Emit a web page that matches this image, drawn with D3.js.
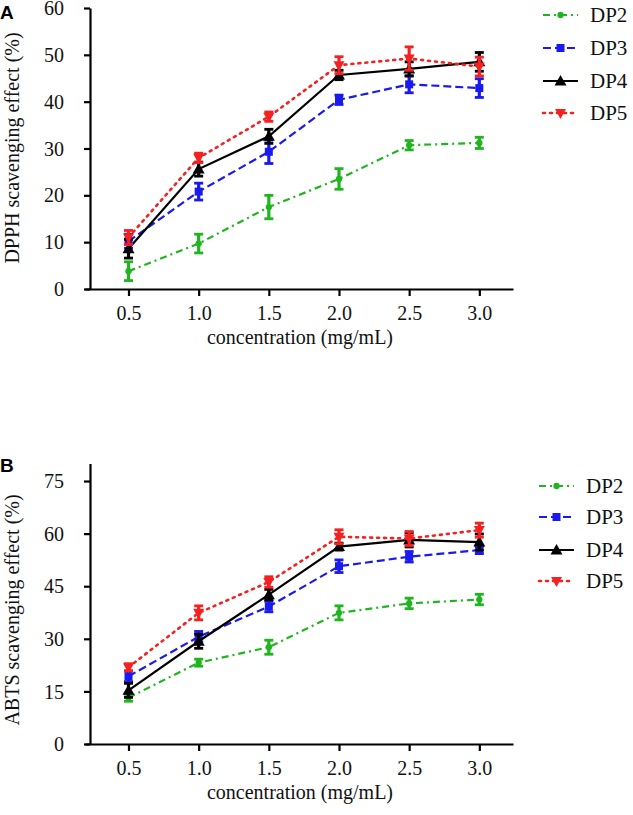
<!DOCTYPE html>
<html><head><meta charset="utf-8">
<script src="https://cdn.jsdelivr.net/npm/d3@7"></script>
<style>body{margin:0;background:#fff}svg{display:block}
.serif{font-family:"Liberation Serif","Times New Roman",Times,serif}
.sansb{font-family:"Liberation Sans",Arial,sans-serif;font-weight:bold}
</style>
</head><body>
<svg id="c" width="633" height="815"></svg>
<script>
const concentrations = [0.5, 1.0, 1.5, 2.0, 2.5, 3.0];
const seriesNames = ["DP2", "DP3", "DP4", "DP5"];
// Panel A: DPPH
const dpphDP2 = [3.8, 9.7, 17.5, 23.5, 30.7, 31.2];
const dpphDP3 = [10.2, 20.8, 29.3, 40.4, 43.7, 42.9];
const dpphDP4 = [8.6, 25.6, 32.6, 45.7, 47.0, 48.5];
const dpphDP5 = [11.0, 28.0, 36.8, 47.8, 49.2, 47.5];
const dpphErrDP2 = [2.0, 2.0, 2.5, 2.2, 1.0, 1.2];
const dpphErrDP3 = [1.5, 1.8, 2.5, 1.0, 1.8, 2.0];
const dpphErrDP4 = [2.0, 1.5, 1.5, 1.0, 1.5, 2.0];
const dpphErrDP5 = [1.5, 1.0, 1.0, 1.8, 2.5, 2.0];
// Panel B: ABTS
const abtsDP2 = [13.2, 23.2, 27.6, 37.4, 40.1, 41.2];
const abtsDP3 = [19.3, 30.6, 39.2, 50.7, 53.4, 55.3];
const abtsDP4 = [15.3, 29.3, 42.6, 56.3, 58.2, 57.6];
const abtsDP5 = [21.9, 37.4, 46.2, 59.1, 58.6, 61.0];
const abtsErrDP2 = [1.0, 1.0, 2.0, 2.0, 1.5, 1.5];
const abtsErrDP3 = [1.5, 1.5, 1.5, 1.8, 1.5, 1.0];
const abtsErrDP4 = [2.0, 2.0, 1.5, 1.0, 2.0, 2.3];
const abtsErrDP5 = [1.0, 2.0, 1.5, 2.0, 2.0, 2.0];
const xTickLabels = ["0.5", "1.0", "1.5", "2.0", "2.5", "3.0"];
const dpphTicks = [0, 10, 20, 30, 40, 50, 60];
const abtsTicks = [0, 15, 30, 45, 60, 75];

const colors = {DP2: "#1fb51f", DP3: "#1a1aee", DP4: "#000000", DP5: "#f52020"};
const dashes = {DP2: "7,4,2,4", DP3: "8,4", DP4: null, DP5: "2,5"};
const caps = {DP2: "butt", DP3: "butt", DP4: "butt", DP5: "round"};
const symbols = {DP2: "circle", DP3: "square", DP4: "triUp", DP5: "triDown"};

const svg = d3.select("#c");

function marker(g, type, cx, cy, color, s) {
  if (type === "circle") g.append("circle").attr("cx", cx).attr("cy", cy).attr("r", s*0.45).attr("fill", color);
  else if (type === "square") g.append("rect").attr("x", cx - s*0.4).attr("y", cy - s*0.4).attr("width", s*0.8).attr("height", s*0.8).attr("fill", color);
  else if (type === "triUp") g.append("path").attr("d", `M${cx},${cy - s*0.6}L${cx + s*0.6},${cy + s*0.45}L${cx - s*0.6},${cy + s*0.45}Z`).attr("fill", color);
  else g.append("path").attr("d", `M${cx},${cy + s*0.6}L${cx + s*0.55},${cy - s*0.4}L${cx - s*0.55},${cy - s*0.4}Z`).attr("fill", color);
}

function panel(cfg) {
  const x = d3.scaleLinear().domain([0.19, 3.24]).range([85, 513]);
  const y = d3.scaleLinear().domain([0, cfg.yMax]).range([cfg.y0, cfg.yTop]);
  const g = svg.append("g");

  const ya = g.append("g").attr("transform", "translate(90,0)")
    .call(d3.axisLeft(y).tickValues(cfg.ticks).tickSize(6).tickSizeOuter(0).tickFormat(d3.format("d")));
  ya.attr("font-family", null).attr("font-size", null);
  ya.select(".domain").attr("stroke-width", 2.2);
  ya.selectAll(".tick line").attr("stroke-width", 2.2);
  ya.selectAll(".tick text").attr("class", "serif").style("font-size", "20px").attr("x", -26).attr("dy", "0.33em").attr("fill", "#111");

  const xa = g.append("g").attr("transform", `translate(0,${cfg.y0})`)
    .call(d3.axisBottom(x).tickValues(concentrations).tickSize(7).tickSizeOuter(0).tickFormat((d, i) => xTickLabels[i]));
  xa.attr("font-family", null).attr("font-size", null);
  xa.select(".domain").attr("stroke-width", 2.2);
  xa.selectAll(".tick line").attr("stroke-width", 2.2);
  xa.selectAll(".tick text").attr("class", "serif").style("font-size", "20px").attr("y", 17).attr("fill", "#111");

  g.append("text").attr("class", "serif").attr("x", 300).attr("y", cfg.y0 + 55).attr("text-anchor", "middle")
    .style("font-size", "20px").attr("fill", "#111").text("concentration (mg/mL)");
  g.append("text").attr("class", "serif").attr("transform", `translate(18.5,${cfg.yLabelC}) rotate(-90)`).attr("text-anchor", "middle")
    .style("font-size", "20px").attr("fill", "#111").text(cfg.yLabel);
  g.append("text").attr("class", "sansb").attr("x", 0).attr("y", cfg.letterY)
    .style("font-size", "19px").attr("fill", "#000").text(cfg.letter);

  const line = d3.line().x((d, i) => x(concentrations[i])).y(d => y(d));
  cfg.series.forEach((vals, k) => {
    const name = seriesNames[k];
    const col = colors[name];
    const errs = cfg.errs[k];
    const sg = g.append("g");
    sg.append("path").datum(vals).attr("d", line).attr("fill", "none").attr("stroke", col)
      .attr("stroke-width", name === "DP5" ? 2.6 : 2.2).attr("stroke-dasharray", dashes[name]).attr("stroke-linecap", caps[name]);
    vals.forEach((v, i) => {
      const cx = x(concentrations[i]);
      const e = errs[i];
      sg.append("line").attr("x1", cx).attr("x2", cx).attr("y1", y(v - e)).attr("y2", y(v + e)).attr("stroke", col).attr("stroke-width", 3.2);
      [v - e, v + e].forEach(b => sg.append("line").attr("x1", cx - 4.5).attr("x2", cx + 4.5).attr("y1", y(b)).attr("y2", y(b)).attr("stroke", col).attr("stroke-width", 2.8));
      marker(sg, symbols[name], cx, y(v), col, name === "DP2" ? 7 : 10);
    });
  });

  seriesNames.forEach((name, k) => {
    const ly = cfg.legY[k];
    const col = colors[name];
    const lg = g.append("g");
    lg.append("line").attr("x1", cfg.legX).attr("x2", cfg.legX + 35).attr("y1", ly).attr("y2", ly).attr("stroke", col)
      .attr("stroke-width", name === "DP5" ? 2.6 : 2.2).attr("stroke-dasharray", dashes[name])
      .attr("stroke-linecap", caps[name]);
    marker(lg, symbols[name], cfg.legX + 17.5, ly, col, name === "DP2" ? 7 : 10);
    lg.append("text").attr("class", "serif").attr("x", cfg.legX + 47).attr("y", ly + 7).style("font-size", "21px")
      .attr("fill", "#111").text(name);
  });
}

panel({
  yMax: 60, y0: 289, yTop: 8, ticks: dpphTicks, yLabel: "DPPH scavenging effect (%)", yLabelC: 148,
  letter: "A", letterY: 19,
  series: [dpphDP2, dpphDP3, dpphDP4, dpphDP5], errs: [dpphErrDP2, dpphErrDP3, dpphErrDP4, dpphErrDP5],
  legX: 543, legY: [15, 48, 81, 113]
});
panel({
  yMax: 80, y0: 744, yTop: 463.5, ticks: abtsTicks, yLabel: "ABTS scavenging effect (%)", yLabelC: 610,
  letter: "B", letterY: 472,
  series: [abtsDP2, abtsDP3, abtsDP4, abtsDP5], errs: [abtsErrDP2, abtsErrDP3, abtsErrDP4, abtsErrDP5],
  legX: 539, legY: [486, 517, 550, 581]
});
</script>
</body></html>
